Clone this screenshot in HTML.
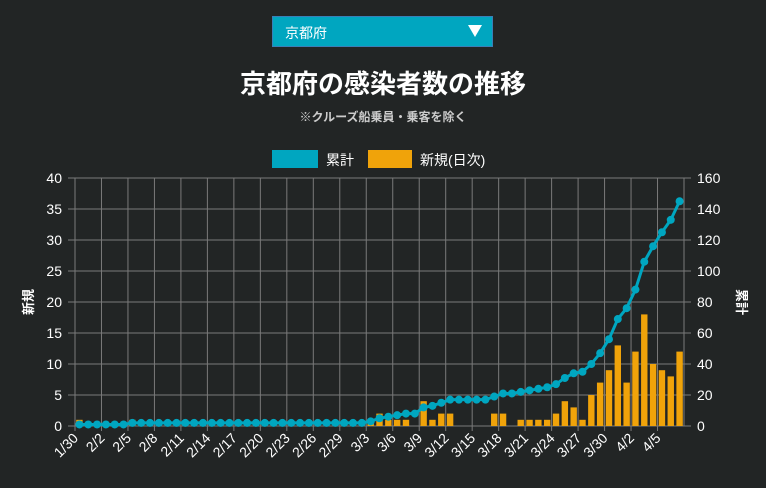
<!DOCTYPE html>
<html><head><meta charset="utf-8"><style>
body{margin:0;background:#222525;width:766px;height:488px;overflow:hidden;font-family:"Liberation Sans","Noto Sans CJK JP",sans-serif;color:#fff;position:relative}
.dd{position:absolute;left:272px;top:16px;width:221px;height:31px;background:#00a6c0;border:1px solid #3a7fb8;box-sizing:border-box}
.dd span{position:absolute;left:12px;top:6px;font-size:14px}
.dd i{position:absolute;right:10px;top:8px;width:0;height:0;border-left:7px solid transparent;border-right:7px solid transparent;border-top:12px solid #fff}
h1{position:absolute;top:64px;left:0;width:766px;text-align:center;margin:0;font-size:26px;font-weight:bold}
.sub{position:absolute;top:108px;left:0;width:766px;text-align:center;font-size:12px;font-weight:bold;color:#ccc}
</style></head><body>
<div class="dd"><span>京都府</span><i></i></div>
<h1>京都府の感染者数の推移</h1>
<div class="sub">※クルーズ船乗員・乗客を除く</div>
<svg id="c" width="766" height="488" style="position:absolute;left:0;top:0"></svg>
<script>
const labels=[];
const daily=[1,0,0,0,0,0,1,0,0,0,0,0,0,0,0,0,0,0,0,0,0,0,0,0,0,0,0,0,0,0,0,0,0,1,2,1,1,1,0,4,1,2,2,0,0,0,0,2,2,0,1,1,1,1,2,4,3,1,5,7,9,13,7,12,18,10,9,8,12];
const cumulative=[1,1,1,1,1,1,2,2,2,2,2,2,2,2,2,2,2,2,2,2,2,2,2,2,2,2,2,2,2,2,2,2,2,3,5,6,7,8,8,12,13,15,17,17,17,17,17,19,21,21,22,23,24,25,27,31,34,35,40,47,56,69,76,88,106,116,125,133,145];
const leftTicks=[0,5,10,15,20,25,30,35,40];
const rightTicks=[0,20,40,60,80,100,120,140,160];
(function(){const d=new Date(2020,0,30);for(let i=0;i<69;i++){const t=new Date(d.getTime()+i*864e5);labels.push((t.getMonth()+1)+'/'+t.getDate());}})();
const svg=document.getElementById('c');const NS='http://www.w3.org/2000/svg';
const L=75,R=684,T=178,B=426;const cw=(R-L)/labels.length;
const yl=v=>B-(v/40)*(B-T);const yr=v=>B-(v/160)*(B-T);const xc=i=>L+cw*(i+0.5);
function mk(tag,a,txt){const e=document.createElementNS(NS,tag);for(const k in a)e.setAttribute(k,a[k]);if(txt!=null)e.textContent=txt;svg.appendChild(e);return e;}
let e=mk('rect',{x:272,y:150,width:46,height:18,fill:'#00a6c0'});


e=mk('text',{x:326,y:165,fill:'#fff','font-size':14},'累計');


e=mk('rect',{x:368,y:150,width:44,height:18,fill:'#f0a30a'});


e=mk('text',{x:420,y:165,fill:'#fff','font-size':14},'新規(日次)');


leftTicks.forEach((v,k)=>{const y=yl(v);
 e=mk('line',{x1:68,x2:691,y1:y,y2:y,stroke:'#7a7a7a','stroke-width':1});
 
 
 e=mk('text',{x:62,y:y+5,fill:'#fff','font-size':14,'text-anchor':'end'},v);
 
 
 e=mk('text',{x:697,y:yr(rightTicks[k])+5,fill:'#fff','font-size':14},rightTicks[k]);
 
 
});
for(let i=0;i<labels.length;i+=3){const x=L+cw*i;
 e=mk('line',{x1:x,x2:x,y1:T,y2:B+5,stroke:'#7a7a7a','stroke-width':1});
 
 
 e=mk('text',{x:x+4,y:B+13,fill:'#fff','font-size':14,'text-anchor':'end',transform:`rotate(-45 ${x+4} ${B+13})`},labels[i]);
 
 
}
e=mk('line',{x1:R,x2:R,y1:T,y2:B,stroke:'#7a7a7a','stroke-width':1});


daily.forEach((v,i)=>{if(!v)return;const y=yl(v);
 e=mk('rect',{x:xc(i)-3.2,y:y,width:6.4,height:B-y,fill:'#f0a30a'});
 
 
});
e=mk('polyline',{points:cumulative.map((v,i)=>xc(i)+','+yr(v)).join(' '),fill:'none',stroke:'#00a6c0','stroke-width':3});


cumulative.forEach((v,i)=>{
 e=mk('circle',{cx:xc(i),cy:yr(v),r:4,fill:'#00a6c0'});
 
 
});
e=mk('text',{x:33,y:302,fill:'#fff','font-size':13,'font-weight':'bold','text-anchor':'middle',transform:'rotate(-90 33 302)'},'新規');


e=mk('text',{x:737,y:302,fill:'#fff','font-size':13,'font-weight':'bold','text-anchor':'middle',transform:'rotate(90 737 302)'},'累計');


</script>
</body></html>
